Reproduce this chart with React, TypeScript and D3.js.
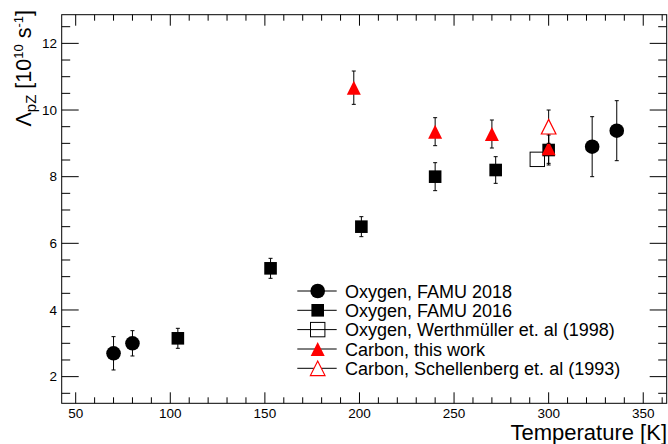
import React from "react";
import * as d3 from "d3";

const oxy2018T = [70, 80, 323, 336];
const oxy2018V = [2.7, 3.0, 8.9, 9.38];
const oxy2018E = [0.5, 0.38, 0.9, 0.9];

const oxy2016T = [104, 153, 201, 240, 272, 300];
const oxy2016V = [3.15, 5.25, 6.5, 8.0, 8.2, 8.8];
const oxy2016E = [0.3, 0.3, 0.3, 0.42, 0.4, 0.45];

const werthT = [294];
const werthV = [8.52];
const werthE = [0];

const carbonT = [197, 240, 270, 300];
const carbonV = [10.67, 9.35, 9.28, 8.85];
const carbonE = [0.5, 0.42, 0.42, 0.45];

const schellT = [300];
const schellV = [9.5];
const schellE = [0.5];

const xTicks = [50, 100, 150, 200, 250, 300, 350];
const yTicks = [2, 4, 6, 8, 10, 12];

const legendLabels = [
  "Oxygen, FAMU 2018",
  "Oxygen, FAMU 2016",
  "Oxygen, Werthmüller et. al (1998)",
  "Carbon, this work",
  "Carbon, Schellenberg et. al (1993)",
];

type Shape = "circle" | "square" | "osquare" | "triangle" | "otriangle";

const W = 668;
const H = 444;
const L = 61.7;
const R = 666.7;
const T = 14.7;
const B = 403.3;

const x = d3.scaleLinear().domain([42.6, 362.4]).range([L, R]);
const y = d3.scaleLinear().domain([1.2, 12.86]).range([B, T]);

function Marker({ shape, cx, cy }: { shape: Shape; cx: number; cy: number }) {
  if (shape === "circle") return <circle cx={cx} cy={cy} r={7.3} fill="#000" />;
  if (shape === "square")
    return <rect x={cx - 6.3} y={cy - 6.3} width={12.6} height={12.6} fill="#000" />;
  if (shape === "osquare")
    return (
      <rect x={cx - 7.2} y={cy - 7.2} width={14.4} height={14.4} fill="none" stroke="#000" strokeWidth={1} />
    );
  const s = shape === "triangle" ? 7 : 7.3;
  const pts = `${cx - s},${cy + s} ${cx + s},${cy + s} ${cx},${cy - s}`;
  if (shape === "triangle") return <polygon points={pts} fill="#ff0000" />;
  return <polygon points={pts} fill="#fff" stroke="#ff0000" strokeWidth={1.2} />;
}

function Series({ T: ts, V, E, shape }: { T: number[]; V: number[]; E: number[]; shape: Shape }) {
  return (
    <g>
      {ts.map((t, i) => {
        const cx = x(t);
        const cy = y(V[i]);
        const y1 = y(V[i] + E[i]);
        const y2 = y(V[i] - E[i]);
        return (
          <g key={i}>
            {E[i] > 0 && (
              <g stroke="#000" strokeWidth={1}>
                <line x1={cx} x2={cx} y1={y1} y2={y2} />
                <line x1={cx - 2} x2={cx + 2} y1={y1} y2={y1} />
                <line x1={cx - 2} x2={cx + 2} y1={y2} y2={y2} />
              </g>
            )}
            <Marker shape={shape} cx={cx} cy={cy} />
          </g>
        );
      })}
    </g>
  );
}

export default function App() {
  const font = "'Liberation Sans', Arial, Helvetica, sans-serif";
  const xMinor = d3.range(50, 361, 10);
  const yMinor = d3.range(1.5, 12.86, 0.5);
  const shapes: Shape[] = ["circle", "square", "osquare", "triangle", "otriangle"];
  const legY = [291, 310.3, 329.6, 349, 368.3];
  return (
    <svg
      width={W}
      height={H}
      style={{ position: "absolute", left: 0, top: 0, display: "block", background: "#fff" }}
      fontFamily={font}
    >
      <rect x={0} y={0} width={W} height={H} fill="#fff" />
      {/* ticks */}
      <g stroke="#000" strokeWidth={1}>
        {xMinor.map((t) => {
          const major = t % 50 === 0;
          const len = major ? 11 : 6;
          return (
            <g key={"xm" + t}>
              <line x1={x(t)} x2={x(t)} y1={B} y2={B - len} />
              <line x1={x(t)} x2={x(t)} y1={T} y2={T + len} />
            </g>
          );
        })}
        {yMinor.map((v) => {
          const major = Math.abs(v % 2) < 1e-6;
          const len = major ? 17 : 8.5;
          return (
            <g key={"ym" + v}>
              <line x1={L} x2={L + len} y1={y(v)} y2={y(v)} />
              <line x1={R} x2={R - len} y1={y(v)} y2={y(v)} />
            </g>
          );
        })}
      </g>
      <rect x={L} y={T} width={R - L} height={B - T} fill="none" stroke="#000" strokeWidth={1} />
      {/* tick labels */}
      <g fontSize={13.5} fill="#000">
        {xTicks.map((t) => (
          <text key={"xl" + t} x={x(t)} y={418} textAnchor="middle">
            {t}
          </text>
        ))}
        {yTicks.map((v) => (
          <text key={"yl" + v} x={57} y={y(v) + 4.8} textAnchor="end">
            {v}
          </text>
        ))}
      </g>
      {/* axis titles */}
      <text x={667} y={440} textAnchor="end" fontSize={22} fill="#000">
        Temperature [K]
      </text>
      <text transform="translate(31,10) rotate(-90)" textAnchor="end" fontSize={21.5} fill="#000">
        Λ<tspan fontSize={15} dy={5}>pZ</tspan>
        <tspan dy={-5}> [10</tspan>
        <tspan fontSize={13} dy={-8}>10</tspan>
        <tspan dy={8}> s</tspan>
        <tspan fontSize={13} dy={-8}>-1</tspan>
        <tspan dy={8}>]</tspan>
      </text>
      {/* data */}
      <Series T={oxy2018T} V={oxy2018V} E={oxy2018E} shape="circle" />
      <Series T={oxy2016T} V={oxy2016V} E={oxy2016E} shape="square" />
      <Series T={werthT} V={werthV} E={werthE} shape="osquare" />
      <Series T={carbonT} V={carbonV} E={carbonE} shape="triangle" />
      <Series T={schellT} V={schellV} E={schellE} shape="otriangle" />
      {/* legend */}
      <g>
        {legendLabels.map((lab, i) => (
          <g key={lab}>
            <line x1={297.3} x2={336.7} y1={legY[i]} y2={legY[i]} stroke="#000" strokeWidth={1} />
            <Marker shape={shapes[i]} cx={317.7} cy={legY[i]} />
            <text x={345} y={legY[i] + 6.5} fontSize={18} fill="#000">
              {lab}
            </text>
          </g>
        ))}
      </g>
    </svg>
  );
}
